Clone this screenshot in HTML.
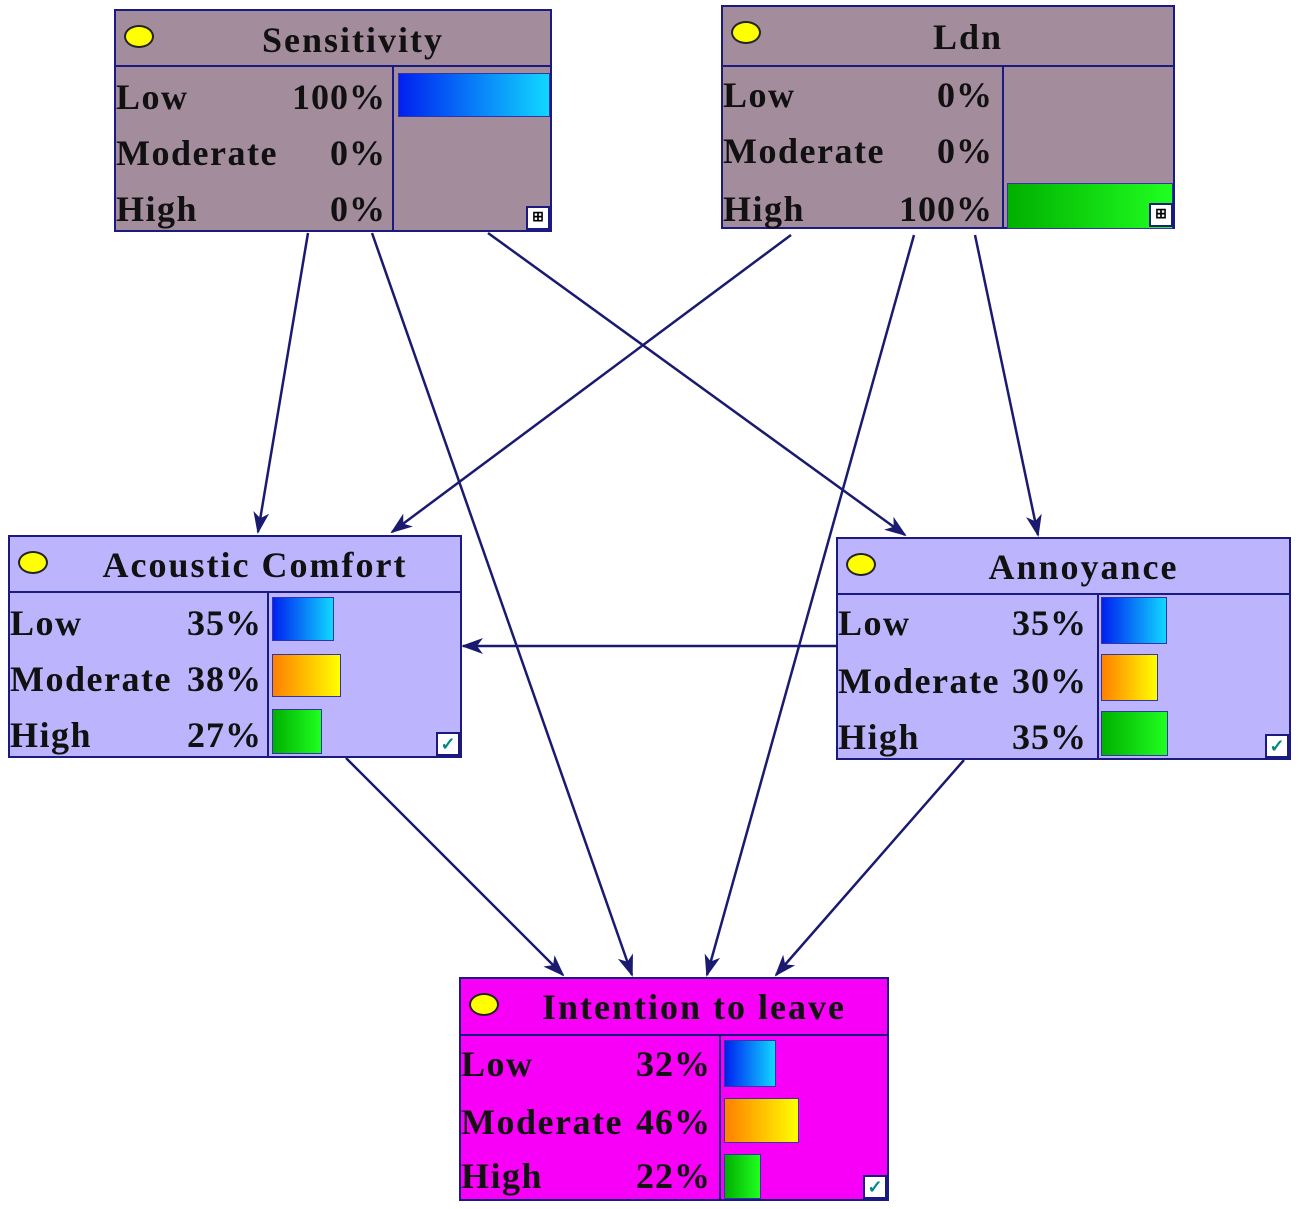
<!DOCTYPE html>
<html><head><meta charset="utf-8"><style>
body{margin:0;width:1299px;height:1209px;background:#fff;position:relative;overflow:hidden;font-family:"Liberation Serif",serif;font-weight:bold;color:#111}
.n{position:absolute;border:2px solid #1a1a80;box-sizing:border-box}
.h{position:absolute;left:0;right:0;top:0;border-bottom:2px solid #1a1a80;font-size:36px;letter-spacing:2px;text-align:center;box-sizing:border-box}
.dot{position:absolute;left:8px;top:14px;width:26px;height:19px;border-radius:50%;background:#ff0;border:2px solid #222}
.dv{position:absolute;top:0;bottom:0;border-left:2px solid #1a1a80}
.r{position:absolute;left:0;font-size:36px;letter-spacing:1.5px;line-height:40px}
.p{position:absolute;font-size:36px;letter-spacing:1px;line-height:40px;text-align:right}
.b{position:absolute;border:1px solid #33a}
.bl{background:linear-gradient(90deg,#0020f0,#10d8ff)}
.or{background:linear-gradient(90deg,#ff8000,#ffff00)}
.gr{background:linear-gradient(90deg,#00b000,#20ff20)}
.ck{position:absolute;width:20px;height:20px;background:#fff;border:2px solid #1a1a80;font-size:18px;line-height:20px;text-align:center;color:#088}
</style></head><body>
<svg width="1299" height="1209" style="position:absolute;left:0;top:0">
<defs><marker id="a" markerWidth="22" markerHeight="16" refX="20" refY="8" orient="auto" markerUnits="userSpaceOnUse"><path d="M0,0 L22,8 L0,16 L6,8 Z" fill="#1a1a70"/></marker></defs>
<g stroke="#1a1a70" stroke-width="2.5" marker-end="url(#a)">
<line x1="308" y1="233" x2="258" y2="532"/>
<line x1="372" y1="233" x2="632" y2="975"/>
<line x1="488" y1="233" x2="905" y2="535"/>
<line x1="791" y1="235" x2="392" y2="532"/>
<line x1="914" y1="235" x2="707" y2="975"/>
<line x1="975" y1="235" x2="1038" y2="535"/>
<line x1="836" y1="646" x2="463" y2="646"/>
<line x1="346" y1="758" x2="563" y2="975"/>
<line x1="964" y1="760" x2="776" y2="975"/>
</g></svg>

<div class="n" style="left:114px;top:9px;width:438px;height:223px;background:#a38c9c">
<div class="h" style="height:56px;line-height:58px;padding-left:40px">Sensitivity</div><div class="dot"></div>
<div style="position:absolute;left:0;right:0;top:56px;bottom:0">
<div class="dv" style="left:276px"></div>
<div class="r" style="top:10px">Low</div><div class="p" style="top:10px;right:164px">100%</div>
<div class="r" style="top:66px">Moderate</div><div class="p" style="top:66px;right:164px">0%</div>
<div class="r" style="top:122px">High</div><div class="p" style="top:122px;right:164px">0%</div>
<div class="b bl" style="left:282px;top:6px;width:150px;height:42px"></div>
</div><div class="ck" style="right:0;bottom:0;font-size:14px;color:#000">⊞</div></div>

<div class="n" style="left:721px;top:5px;width:454px;height:224px;background:#a38c9c">
<div class="h" style="height:60px;line-height:60px;padding-left:40px">Ldn</div><div class="dot"></div>
<div style="position:absolute;left:0;right:0;top:60px;bottom:0">
<div class="dv" style="left:279px"></div>
<div class="r" style="top:8px">Low</div><div class="p" style="top:8px;right:180px">0%</div>
<div class="r" style="top:64px">Moderate</div><div class="p" style="top:64px;right:180px">0%</div>
<div class="r" style="top:122px">High</div><div class="p" style="top:122px;right:180px">100%</div>
<div class="b gr" style="left:284px;top:116px;width:164px;height:44px"></div>
</div><div class="ck" style="right:0;bottom:0;font-size:14px;color:#000">⊞</div></div>

<div class="n" style="left:8px;top:535px;width:454px;height:223px;background:#bcb4fc">
<div class="h" style="height:56px;line-height:56px;padding-left:40px">Acoustic Comfort</div><div class="dot"></div>
<div style="position:absolute;left:0;right:0;top:56px;bottom:0">
<div class="dv" style="left:257px"></div>
<div class="r" style="top:10px">Low</div><div class="p" style="top:10px;right:198px">35%</div>
<div class="r" style="top:66px">Moderate</div><div class="p" style="top:66px;right:198px">38%</div>
<div class="r" style="top:122px">High</div><div class="p" style="top:122px;right:198px">27%</div>
<div class="b bl" style="left:262px;top:4px;width:60px;height:42px"></div>
<div class="b or" style="left:262px;top:61px;width:67px;height:41px"></div>
<div class="b gr" style="left:262px;top:116px;width:48px;height:43px"></div>
</div><div class="ck" style="right:0;bottom:0">✓</div></div>

<div class="n" style="left:836px;top:537px;width:455px;height:223px;background:#bcb4fc">
<div class="h" style="height:56px;line-height:56px;padding-left:40px">Annoyance</div><div class="dot"></div>
<div style="position:absolute;left:0;right:0;top:56px;bottom:0">
<div class="dv" style="left:259px"></div>
<div class="r" style="top:8px">Low</div><div class="p" style="top:8px;right:202px">35%</div>
<div class="r" style="top:66px">Moderate</div><div class="p" style="top:66px;right:202px">30%</div>
<div class="r" style="top:122px">High</div><div class="p" style="top:122px;right:202px">35%</div>
<div class="b bl" style="left:263px;top:2px;width:64px;height:45px"></div>
<div class="b or" style="left:263px;top:59px;width:55px;height:45px"></div>
<div class="b gr" style="left:263px;top:116px;width:65px;height:43px"></div>
</div><div class="ck" style="right:0;bottom:0">✓</div></div>

<div class="n" style="left:459px;top:977px;width:430px;height:224px;background:#f800f8">
<div class="h" style="height:57px;line-height:57px;padding-left:40px">Intention to leave</div><div class="dot"></div>
<div style="position:absolute;left:0;right:0;top:57px;bottom:0">
<div class="dv" style="left:258px"></div>
<div class="r" style="top:8px">Low</div><div class="p" style="top:8px;right:176px">32%</div>
<div class="r" style="top:66px">Moderate</div><div class="p" style="top:66px;right:176px">46%</div>
<div class="r" style="top:120px">High</div><div class="p" style="top:120px;right:176px">22%</div>
<div class="b bl" style="left:263px;top:4px;width:50px;height:45px"></div>
<div class="b or" style="left:263px;top:62px;width:73px;height:43px"></div>
<div class="b gr" style="left:263px;top:118px;width:35px;height:43px"></div>
</div><div class="ck" style="right:0;bottom:0">✓</div></div>
</body></html>
